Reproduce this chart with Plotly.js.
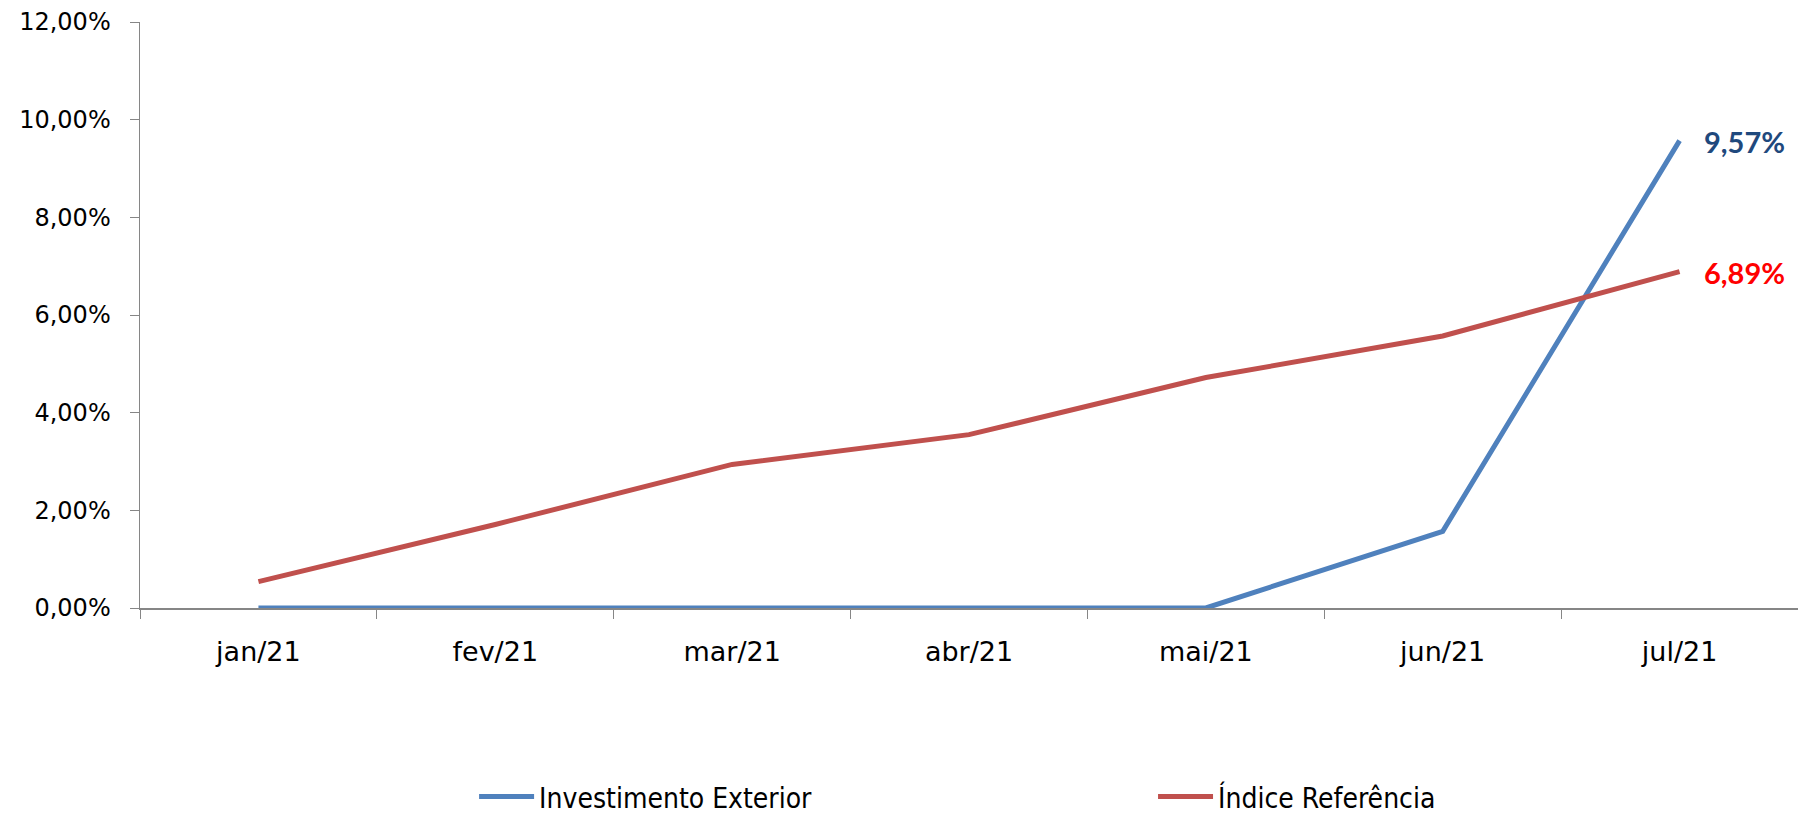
<!DOCTYPE html>
<html>
<head>
<meta charset="utf-8">
<script src="https://cdn.plot.ly/plotly-3.0.1.min.js"></script>
<style>
html,body{margin:0;padding:0;background:#fff;}
#chart{width:1798px;height:819px;}
</style>
</head>
<body>
<div id="chart"></div>
<script>
const categories = ["jan/21","fev/21","mar/21","abr/21","mai/21","jun/21","jul/21"];
const investimentoExterior = [0, 0, 0, 0, 0, 0.0157, 0.0957];
const indiceReferencia = [0.0054, 0.0171, 0.0294, 0.0355, 0.0472, 0.0557, 0.0689];
const seriesNames = ["Investimento Exterior", "Índice Referência"];
const yTicks = [0, 0.02, 0.04, 0.06, 0.08, 0.10, 0.12];

const tickFont = "'DejaVu Sans', 'Open Sans', sans-serif";
const labelFont = "Lato, 'Open Sans', sans-serif";
const legendFont = "'DejaVu Sans Condensed', 'Liberation Sans Narrow', 'DejaVu Sans', sans-serif";

const fmt = v => (v*100).toFixed(2).replace('.', ',') + '%';

const traces = [
  {x: categories, y: investimentoExterior, name: seriesNames[0], type: 'scatter', mode: 'lines',
   line: {color: '#4F81BD', width: 5}, cliponaxis: false, legend: 'legend'},
  {x: categories, y: indiceReferencia, name: seriesNames[1], type: 'scatter', mode: 'lines',
   line: {color: '#C0504D', width: 5}, cliponaxis: false, legend: 'legend2'}
];

const last = categories.length - 1;
const legendCommon = {
  orientation: 'h', xanchor: 'left', y: 0.027, yanchor: 'middle', yref: 'container',
  itemwidth: 55, font: {family: legendFont, size: 28, color: '#000'}, bgcolor: 'rgba(0,0,0,0)'
};
const layout = {
  width: 1798, height: 819,
  margin: {l: 140, r: 0, t: 22, b: 211, autoexpand: false},
  paper_bgcolor: '#fff', plot_bgcolor: '#fff',
  separators: ',.',
  showlegend: true,
  font: {family: tickFont, size: 24, color: '#000'},
  xaxis: {
    type: 'category', tickson: 'boundaries', ticks: 'outside', ticklen: 9, tickcolor: '#868686',
    showline: true, linecolor: '#868686', linewidth: 1.5, showgrid: false, zeroline: false,
    tickfont: {family: tickFont, size: 27, color: '#000'}, ticklabelstandoff: 19,
    range: [-0.5, categories.length - 0.5], fixedrange: true
  },
  yaxis: {
    range: [0, 0.12], tickvals: yTicks, ticktext: yTicks.map(fmt),
    ticks: 'outside', ticklen: 9, tickcolor: '#868686',
    showline: true, linecolor: '#868686', linewidth: 1.5, showgrid: false, zeroline: false,
    tickfont: {family: tickFont, size: 24, color: '#000'}, ticklabelstandoff: 14, fixedrange: true
  },
  legend: Object.assign({}, legendCommon, {x: 0.2015}),
  legend2: Object.assign({}, legendCommon, {x: 0.611}),
  annotations: [
    {x: categories[last], y: investimentoExterior[last], xref: 'x', yref: 'y', text: '<b>' + fmt(investimentoExterior[last]) + '</b>',
     showarrow: false, xanchor: 'left', yanchor: 'middle', xshift: 22, yshift: -1,
     font: {family: labelFont, size: 29, color: '#1F497D'}},
    {x: categories[last], y: indiceReferencia[last], xref: 'x', yref: 'y', text: '<b>' + fmt(indiceReferencia[last]) + '</b>',
     showarrow: false, xanchor: 'left', yanchor: 'middle', xshift: 22, yshift: -1,
     font: {family: labelFont, size: 29, color: '#FF0000'}}
  ]
};

Plotly.newPlot('chart', traces, layout, {displayModeBar: false, staticPlot: true});
</script>
</body>
</html>
